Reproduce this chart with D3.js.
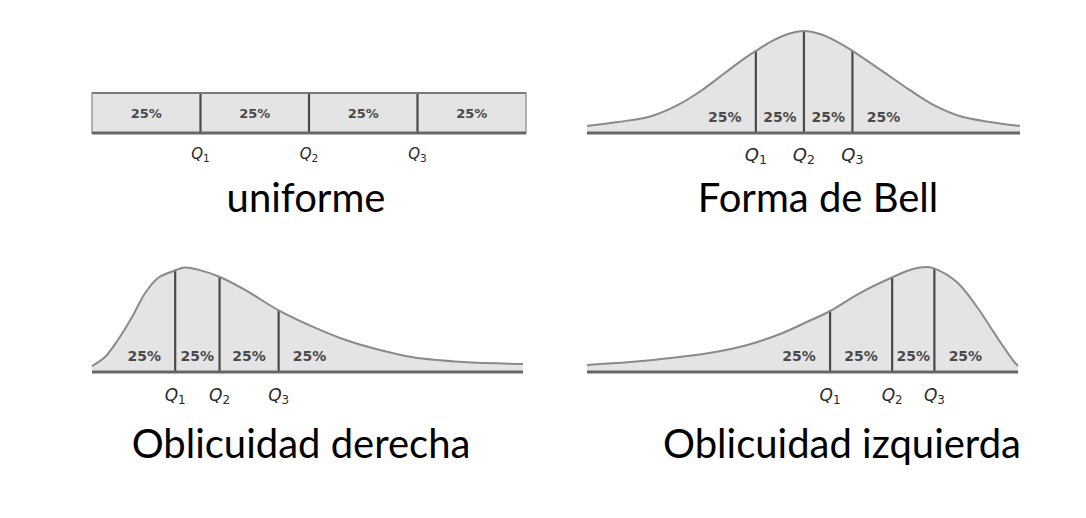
<!DOCTYPE html>
<html>
<head>
<meta charset="utf-8">
<script src="https://cdn.jsdelivr.net/npm/d3@7"></script>
<style>
  html, body { margin: 0; padding: 0; background: #ffffff; }
  svg { display: block; }
</style>
</head>
<body>
<svg id="chart" width="1086" height="518"></svg>
<script>
// ---------- DATA ----------
// x is position along the distribution (0..100), h is relative density height (0..100)
const panelTitles = ["uniforme", "Forma de Bell", "Oblicuidad derecha", "Oblicuidad izquierda"];
const segmentLabels = ["25%", "25%", "25%", "25%"];
const quartileNames = ["1", "2", "3"];

const uniformCurve = [[0, 100], [100, 100]];
const uniformQuartiles = [25, 50, 75];

const bellCurve = [
  [0, 6.9], [7.2, 10.8], [15, 16.7], [21, 27.5], [26.6, 42.2], [31.9, 59],
  [35.8, 71.5], [39, 80.5], [42.7, 90], [46.4, 97], [50.1, 100], [53.8, 97],
  [57.5, 90], [61.3, 80.5], [64.5, 71.5], [68.8, 59], [74.5, 42.2],
  [80, 27.5], [86, 16.7], [93, 10.8], [100, 7]
];
const bellQuartiles = [39, 50.1, 61.3];

const rightSkewCurve = [
  [0, 5.7], [3, 14.3], [6, 30.5], [9.3, 52.4], [12.3, 75], [15.3, 89.5],
  [18.8, 96], [21.6, 99.5], [24.6, 97.5], [29.7, 90.5], [36, 77], [43.2, 59],
  [51.3, 43], [59.2, 30], [66.8, 21], [74.5, 14], [86.1, 9.5], [100, 7.6]
];
const rightSkewQuartiles = [19.3, 29.6, 43.3];

const leftSkewCurve = [
  [0, 6.7], [10, 9.5], [20, 13.5], [29, 18.5], [37, 25.5], [44.8, 36.2],
  [51, 47.6], [56.4, 58.1], [63.3, 75.2], [71, 90.5], [75.6, 98.1], [78.9, 100],
  [80.7, 98.5], [85.8, 85.7], [90.5, 61.9], [95.1, 33.3], [98.8, 11.4], [100, 5.7]
];
const leftSkewQuartiles = [56.4, 70.8, 80.6];

// ---------- LAYOUT ----------
const panels = [
  { curve: uniformCurve, q: uniformQuartiles, title: panelTitles[0], box: true,
    x0: 92, x1: 526, base: 133, top: 93, titleX: 306, titleY: 212, qY: 159, qSize: 15, clipBottom: null },
  { curve: bellCurve, q: bellQuartiles, title: panelTitles[1], box: false,
    x0: 587, x1: 1020, base: 133, top: 31, titleX: 818, titleY: 212, qY: 161, qSize: 18, clipBottom: 164 },
  { curve: rightSkewCurve, q: rightSkewQuartiles, title: panelTitles[2], box: false,
    x0: 92, x1: 523, base: 372, top: 267, titleX: 301, titleY: 458, qY: 401, qSize: 17, clipBottom: null },
  { curve: leftSkewCurve, q: leftSkewQuartiles, title: panelTitles[3], box: false,
    x0: 587, x1: 1018, base: 372, top: 267, titleX: 842, titleY: 458, qY: 401, qSize: 17, clipBottom: null }
];

const svg = d3.select("#chart");
const defs = svg.append("defs");

panels.forEach((p, pi) => {
  const x = d3.scaleLinear().domain([0, 100]).range([p.x0, p.x1]);
  const y = d3.scaleLinear().domain([0, 100]).range([p.base, p.top]);
  const g = svg.append("g");

  const curveType = p.box ? d3.curveLinear : d3.curveCatmullRom.alpha(0.5);
  const area = d3.area().x(d => x(d[0])).y0(y(0)).y1(d => y(d[1])).curve(curveType);
  const line = d3.line().x(d => x(d[0])).y(d => y(d[1])).curve(curveType);

  const clipId = "clip" + pi;
  defs.append("clipPath").attr("id", clipId)
    .append("path").attr("d", area(p.curve));

  // fill
  g.append("path").attr("d", area(p.curve))
    .attr("fill", "#e4e4e4");

  // quartile lines (clipped to the area)
  g.append("g").attr("clip-path", `url(#${clipId})`)
    .selectAll("line").data(p.q).join("line")
    .attr("x1", d => x(d)).attr("x2", d => x(d))
    .attr("y1", y(0)).attr("y2", y(110))
    .attr("stroke", "#4a4a4a").attr("stroke-width", 2.2);

  if (p.box) {
    g.append("rect")
      .attr("x", x(0)).attr("y", y(100))
      .attr("width", x(100) - x(0)).attr("height", y(0) - y(100))
      .attr("fill", "none").attr("stroke", "#9a9a9a").attr("stroke-width", 1.5);
    g.append("line")
      .attr("x1", x(0)).attr("x2", x(100)).attr("y1", y(100)).attr("y2", y(100))
      .attr("stroke", "#7a7a7a").attr("stroke-width", 2);
  } else {
    g.append("path").attr("d", line(p.curve))
      .attr("fill", "none").attr("stroke", "#8a8a8a").attr("stroke-width", 2);
  }

  // baseline
  g.append("line")
    .attr("x1", x(0)).attr("x2", x(100)).attr("y1", y(0)).attr("y2", y(0))
    .attr("stroke", "#666666").attr("stroke-width", 3);

  // 25% labels
  const bounds = [0, ...p.q, 100];
  const labelY = p.box ? (y(0) + y(100)) / 2 : y(0) - 16;
  segmentLabels.forEach((lab, i) => {
    let cx;
    if (p.box || (i > 0 && i < 3)) cx = (x(bounds[i]) + x(bounds[i + 1])) / 2;
    else if (i === 0) cx = x(p.q[0]) - 31;
    else cx = x(p.q[2]) + 31;
    g.append("text")
      .attr("x", cx).attr("y", labelY)
      .attr("text-anchor", "middle").attr("dominant-baseline", "central")
      .attr("font-family", "DejaVu Sans, sans-serif")
      .attr("font-size", p.box ? 13 : 14).attr("font-weight", "bold")
      .attr("fill", "#4a4a4a")
      .text(lab);
  });

  // Q labels
  let qg = g.append("g");
  if (p.clipBottom !== null) {
    const qc = "qclip" + pi;
    defs.append("clipPath").attr("id", qc)
      .append("rect").attr("x", p.x0 - 20).attr("y", p.base)
      .attr("width", p.x1 - p.x0 + 40).attr("height", p.clipBottom - p.base);
    qg.attr("clip-path", `url(#${qc})`);
  }
  p.q.forEach((qv, i) => {
    const t = qg.append("text")
      .attr("x", x(qv)).attr("y", p.qY)
      .attr("text-anchor", "middle")
      .attr("font-family", "DejaVu Sans, sans-serif")
      .attr("font-size", p.qSize).attr("font-style", "italic")
      .attr("fill", "#2a2a2a");
    t.append("tspan").text("Q");
    t.append("tspan").attr("font-size", p.qSize * 0.7).attr("dy", 3).attr("font-style", "normal").text(quartileNames[i]);
  });

  // title
  svg.append("text")
    .attr("x", p.titleX).attr("y", p.titleY)
    .attr("text-anchor", "middle")
    .attr("font-family", "Lato, 'Open Sans', sans-serif")
    .attr("font-size", 40)
    .attr("fill", "#000000")
    .text(p.title);
});
</script>
</body>
</html>
